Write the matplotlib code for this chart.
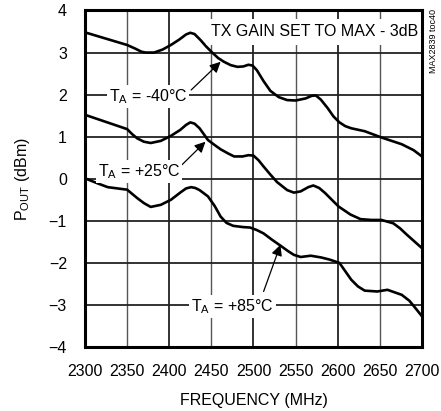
import matplotlib
matplotlib.use("Agg")
import matplotlib.pyplot as plt

plt.rcParams['font.family'] = ['Liberation Sans', 'DejaVu Sans']
plt.rcParams['mathtext.fontset'] = 'custom'
plt.rcParams['mathtext.rm'] = 'Liberation Sans'

# frequency (MHz) / output power (dBm)
freq_m40 = [2300, 2325, 2350, 2360, 2367, 2372, 2382, 2392, 2402, 2412, 2420, 2425, 2430,
            2437, 2444, 2451, 2458, 2465, 2473, 2481, 2488, 2494, 2499, 2504, 2512, 2520,
            2530, 2540, 2550, 2562, 2569, 2574, 2580, 2588, 2595, 2602, 2609, 2616, 2632,
            2652, 2676, 2690, 2700]
pout_m40 = [3.48, 3.33, 3.18, 3.09, 3.02, 3.0, 3.0, 3.07, 3.18, 3.31, 3.43, 3.47, 3.44,
            3.30, 3.14, 3.0, 2.87, 2.78, 2.70, 2.66, 2.67, 2.71, 2.69, 2.58, 2.32, 2.09,
            1.94, 1.87, 1.86, 1.91, 1.97, 1.98, 1.88, 1.68, 1.48, 1.34, 1.25, 1.20, 1.13,
            0.98, 0.82, 0.68, 0.53]

freq_p25 = [2300, 2325, 2350, 2356, 2362, 2370, 2378, 2390, 2402, 2413, 2420, 2425, 2430,
            2436, 2446, 2454, 2461, 2470, 2477, 2487, 2494, 2500, 2506, 2512, 2520, 2528,
            2540, 2548, 2556, 2565, 2571, 2578, 2585, 2593, 2601, 2615, 2627, 2640, 2652,
            2666, 2674, 2682, 2700]
pout_p25 = [1.52, 1.35, 1.18, 1.06, 0.96, 0.88, 0.85, 0.90, 1.02, 1.16, 1.28, 1.34, 1.31,
            1.20, 0.92, 0.80, 0.70, 0.60, 0.53, 0.53, 0.56, 0.55, 0.44, 0.29, 0.10, -0.08,
            -0.27, -0.33, -0.30, -0.20, -0.16, -0.22, -0.34, -0.50, -0.66, -0.85, -0.96, -0.98, -0.98,
            -1.06, -1.18, -1.33, -1.65]

freq_p85 = [2300, 2315, 2327, 2350, 2356, 2362, 2370, 2378, 2390, 2402, 2413, 2420, 2426,
            2431, 2436, 2446, 2454, 2461, 2468, 2476, 2488, 2496, 2504, 2512, 2522, 2532,
            2541, 2548, 2556, 2568, 2580, 2590, 2602, 2609, 2616, 2624, 2632, 2647, 2659,
            2676, 2685, 2692, 2700]
pout_p85 = [0.01, -0.11, -0.20, -0.26, -0.36, -0.46, -0.58, -0.67, -0.62, -0.50, -0.33, -0.23, -0.20,
            -0.22, -0.27, -0.42, -0.65, -0.90, -1.05, -1.12, -1.15, -1.16, -1.22, -1.30, -1.45, -1.59,
            -1.72, -1.81, -1.86, -1.83, -1.87, -1.92, -2.00, -2.20, -2.40, -2.56, -2.66, -2.68, -2.64,
            -2.76, -2.90, -3.07, -3.27]

x_ticks = [2300, 2350, 2400, 2450, 2500, 2550, 2600, 2650, 2700]
y_ticks = [-4, -3, -2, -1, 0, 1, 2, 3, 4]

fig = plt.figure(figsize=(4.41, 4.11), dpi=100)
ax = fig.add_axes([0.1927, 0.1557, 0.7642, 0.8188])

for x in x_ticks:
    thin = (x // 50) % 2 == 1
    ax.axvline(x, color='#555555' if thin else '#222222', lw=1.0 if thin else 1.3, zorder=1)
for y in y_ticks:
    ax.axhline(y, color='#222222', lw=1.3, zorder=1)

for f, p in [(freq_m40, pout_m40), (freq_p25, pout_p25), (freq_p85, pout_p85)]:
    ax.plot(f, p, color='black', lw=1.9, solid_joinstyle='round', solid_capstyle='round', zorder=3)

ax.set_xlim(2300, 2700)
ax.set_ylim(-4, 4)
ax.set_xticks(x_ticks)
ax.set_yticks(y_ticks)
ax.tick_params(length=0, labelsize=11.5, pad=12)
ax.tick_params(axis='y', pad=13)
for s in ax.spines.values():
    s.set_linewidth(2.2)
    s.set_zorder(5)

ax.set_xlabel('FREQUENCY (MHz)', fontsize=11.5, labelpad=10)
ax.set_ylabel(r'P$_\mathrm{OUT}$ (dBm)', fontsize=11.5, labelpad=12)

box = dict(facecolor='white', edgecolor='none', pad=1.5)
ax.text(2573, 3.49, 'TX GAIN SET TO MAX - 3dB', ha='center', va='center',
        fontsize=11.5, bbox=dict(facecolor='white', edgecolor='none', pad=4), zorder=4)

arrow = dict(arrowstyle='-|>', color='black', lw=0.9, mutation_scale=16, shrinkA=0, shrinkB=0)
ax.annotate('', xy=(2461, 2.78), xytext=(2426, 2.11), arrowprops=arrow, zorder=4)
ax.annotate('', xy=(2443, 0.88), xytext=(2415, 0.33), arrowprops=arrow, zorder=4)
ax.annotate('', xy=(2532, -1.57), xytext=(2512, -2.68), arrowprops=arrow, zorder=4)

ax.text(2375, 1.95, r'T$_\mathrm{A}$ = -40°C', ha='center', va='center', fontsize=11.5, bbox=box, zorder=4)
ax.text(2364, 0.17, r'T$_\mathrm{A}$ = +25°C', ha='center', va='center', fontsize=11.5, bbox=box, zorder=4)
ax.text(2475, -3.03, r'T$_\mathrm{A}$ = +85°C', ha='center', va='center', fontsize=11.5, bbox=box, zorder=4)

fig.text(433 / 441, 1 - 9 / 411, 'MAX2839 toc40', rotation=90, ha='center', va='top', fontsize=6.5)

fig.savefig('out.png', dpi=100)
